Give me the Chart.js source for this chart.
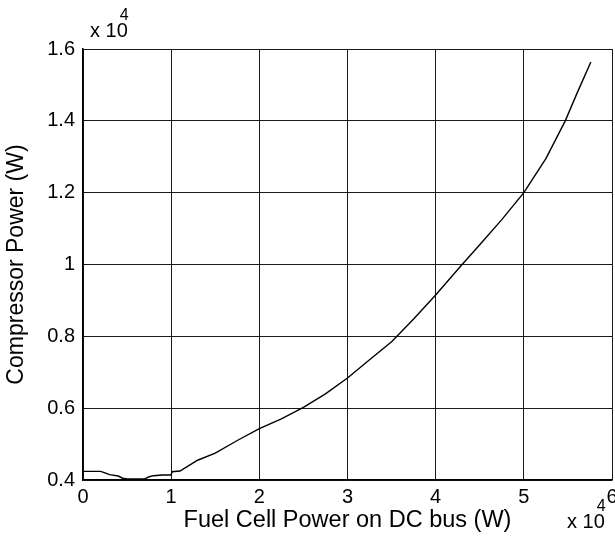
<!DOCTYPE html>
<html>
<head>
<meta charset="utf-8">
<script src="https://cdn.jsdelivr.net/npm/chart.js@4/dist/chart.umd.min.js"></script>
<style>
  html, body { margin: 0; padding: 0; background: #ffffff; }
  #wrap { width: 615px; height: 540px; }
</style>
</head>
<body>
<div id="wrap"><canvas id="c" width="615" height="540"></canvas></div>
<script>
// Fuel cell power on DC bus (W)
const fuelCellPowerW = [0, 1000, 2000, 2500, 3000, 4000, 4500, 5000, 6000, 7000, 7500, 8000, 9000, 10000,
  10100, 11000, 12000, 13000, 15000, 17500, 20000, 22500, 25000, 27500, 30000, 32500, 35000, 37500,
  40000, 43000, 45000, 47500, 50000, 52500, 54700, 56000, 57600];
// Compressor power (W)
const compressorPowerW = [4240, 4240, 4240, 4200, 4150, 4110, 4050, 4030, 4030, 4030, 4090, 4120, 4140, 4140,
  4230, 4250, 4400, 4550, 4750, 5100, 5430, 5700, 6020, 6400, 6840, 7350, 7850, 8480,
  9150, 10000, 10550, 11250, 12000, 12950, 14000, 14750, 15640];

const xTickLabels = ["0", "1", "2", "3", "4", "5", "6"];
const yTickLabels = ["0.4", "0.6", "0.8", "1", "1.2", "1.4", "1.6"];
const xTitle = "Fuel Cell Power on DC bus (W)";
const yTitle = "Compressor Power (W)";
const exponentText = "x 10";
const exponentPower = "4";

const FONT = "'Liberation Sans', Arial, Helvetica, sans-serif";

const points = fuelCellPowerW.map((x, i) => ({ x: x, y: compressorPowerW[i] }));

const exponentPlugin = {
  id: 'exponents',
  afterDraw(chart) {
    const ctx = chart.ctx;
    const a = chart.chartArea;
    ctx.save();
    ctx.fillStyle = '#000';
    ctx.textBaseline = 'alphabetic';
    ctx.textAlign = 'left';
    // y axis multiplier (top-left)
    ctx.font = '20px ' + FONT;
    const w1 = ctx.measureText(exponentText).width;
    ctx.fillText(exponentText, a.left + 7, a.top - 12);
    ctx.font = '16px ' + FONT;
    ctx.fillText(exponentPower, a.left + 7 + w1 - 8, a.top - 29);
    // x axis multiplier (bottom-right)
    ctx.font = '20px ' + FONT;
    const w2 = ctx.measureText(exponentText).width;
    ctx.fillText(exponentText, a.right - 45, a.bottom + 48);
    ctx.font = '16px ' + FONT;
    ctx.fillText(exponentPower, a.right - 45 + w2 - 8, a.bottom + 31);
    ctx.restore();
  }
};

new Chart(document.getElementById('c'), {
  type: 'line',
  data: {
    datasets: [{
      data: points,
      borderColor: '#000000',
      borderWidth: 1.4,
      pointRadius: 0,
      tension: 0,
      fill: false
    }]
  },
  options: {
    responsive: false,
    animation: false,
    parsing: true,
    layout: { padding: { top: 49, right: 3, left: 0, bottom: 0 } },
    plugins: {
      legend: { display: false },
      tooltip: { enabled: false }
    },
    scales: {
      x: {
        type: 'linear',
        min: 0,
        max: 60000,
        ticks: {
          stepSize: 10000,
          color: '#000',
          font: { family: FONT, size: 20 },
          padding: 5,
          maxRotation: 0,
          autoSkip: false,
          callback: (v) => xTickLabels[Math.round(v / 10000)]
        },
        grid: { color: '#1a1a1a', lineWidth: 1, drawTicks: false },
        border: { color: '#000', width: 1.5 },
        title: {
          display: true,
          text: xTitle,
          color: '#000',
          font: { family: FONT, size: 23.5 },
          padding: { top: 0, bottom: 5 }
        },
        afterFit(scale) { scale.height = 60; scale.paddingLeft = 0; scale.paddingRight = 0; }
      },
      y: {
        type: 'linear',
        min: 4000,
        max: 16000,
        ticks: {
          stepSize: 2000,
          color: '#000',
          font: { family: FONT, size: 20 },
          padding: 8,
          autoSkip: false,
          callback: (v) => yTickLabels[Math.round((v - 4000) / 2000)]
        },
        grid: { color: '#1a1a1a', lineWidth: 1, drawTicks: false },
        border: { color: '#000', width: 1.5 },
        title: {
          display: true,
          text: yTitle,
          color: '#000',
          font: { family: FONT, size: 23 },
          padding: { top: 3, bottom: 0 }
        },
        afterFit(scale) { scale.width = 83; scale.paddingTop = 0; scale.paddingBottom = 0; }
      }
    }
  },
  plugins: [exponentPlugin]
});
</script>
</body>
</html>
